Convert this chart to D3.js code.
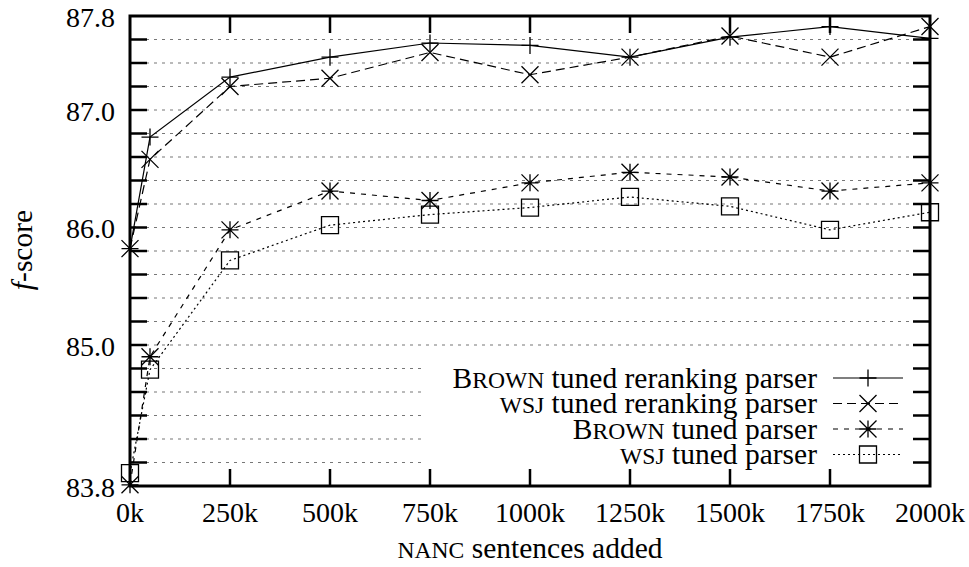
<!DOCTYPE html>
<html>
<head>
<meta charset="utf-8">
<script src="https://cdn.jsdelivr.net/npm/d3@7"></script>
<style>
  body { margin: 0; background: #fff; }
</style>
</head>
<body>
<div class="chart"></div>
<script>
// NANC sentences added (thousands)
const sizes = [0, 50, 250, 500, 750, 1000, 1250, 1500, 1750, 2000];

const brownRerank = [85.82, 86.77, 87.28, 87.45, 87.57, 87.55, 87.45, 87.62, 87.71, 87.61];
const wsjRerank   = [85.82, 86.58, 87.20, 87.27, 87.49, 87.30, 87.45, 87.63, 87.45, 87.71];
const brownParser = [83.81, 84.90, 85.98, 86.31, 86.23, 86.38, 86.47, 86.43, 86.31, 86.38];
const wsjParser   = [83.91, 84.79, 85.72, 86.02, 86.11, 86.17, 86.26, 86.18, 85.98, 86.13];

const xTicks = [0, 250, 500, 750, 1000, 1250, 1500, 1750, 2000];
const yLabelTicks = [83.8, 85.0, 86.0, 87.0, 87.8];

const width = 969, height = 567;
const plotLeft = 130, plotRight = 930, plotTop = 16, plotBottom = 486;
const serif = 'Liberation Serif';
const tickFs = 28;
const fs = 29.5;

const svg = d3.select('.chart')
.append('svg')
.attr('width', width)
.attr('height', height);

let x = d3.scaleLinear().domain([0, 2000]).range([plotLeft, plotRight]);
let y = d3.scaleLinear().domain([83.8, 87.8]).range([plotBottom, plotTop]);

// every 0.2 from 84.0 to 87.6
const minorY = d3.range(1, 20).map(i => +(83.8 + i * 0.2).toFixed(1));

// grid
svg.append('g')
.selectAll('line')
.data(minorY)
.enter()
.append('line')
.attr('x1', plotLeft)
.attr('x2', plotRight)
.attr('y1', d => y(d))
.attr('y2', d => y(d))
.attr('stroke', '#777')
.attr('stroke-width', 1.2)
.attr('stroke-dasharray', '3,5');

// legend background covers grid
svg.append('rect')
.attr('x', 421)
.attr('y', 362)
.attr('width', plotRight - 421 - 2)
.attr('height', 108)
.attr('fill', '#fff');

const series = [
	{name: [['B', 1], ['ROWN', 0.8], [' tuned reranking parser', 1]], values: brownRerank, dash: null, marker: 'plus'},
	{name: [['WSJ', 0.8], [' tuned reranking parser', 1]], values: wsjRerank, dash: '9,5', marker: 'cross'},
	{name: [['B', 1], ['ROWN', 0.8], [' tuned parser', 1]], values: brownParser, dash: '5,6', marker: 'star'},
	{name: [['WSJ', 0.8], [' tuned parser', 1]], values: wsjParser, dash: '2,3', marker: 'box'}
];

const ms = 8.5;

const drawMarker = (g, type, cx, cy) => {
	const p = d3.path();
	if (type === 'plus' || type === 'star') {
		p.moveTo(cx - ms, cy); p.lineTo(cx + ms, cy);
		p.moveTo(cx, cy - ms); p.lineTo(cx, cy + ms);
	}
	if (type === 'cross' || type === 'star') {
		p.moveTo(cx - ms, cy - ms); p.lineTo(cx + ms, cy + ms);
		p.moveTo(cx - ms, cy + ms); p.lineTo(cx + ms, cy - ms);
	}
	if (type === 'box') {
		p.rect(cx - ms, cy - ms, ms * 2, ms * 2);
	}
	g.append('path')
	.attr('d', p.toString())
	.attr('fill', 'none')
	.attr('stroke', '#000')
	.attr('stroke-width', 1.3);
}

const line = d3.line()
.x(d => x(d[0]))
.y(d => y(d[1]));

const plot = svg.append('g');

series.forEach(s => {
	const pts = sizes.map((v, i) => [v, s.values[i]]);

	plot.append('path')
	.datum(pts)
	.attr('d', line)
	.attr('fill', 'none')
	.attr('stroke', '#000')
	.attr('stroke-width', 1.2)
	.attr('stroke-dasharray', s.dash);

	pts.forEach(p => drawMarker(plot, s.marker, x(p[0]), y(p[1])));
})

// frame
svg.append('rect')
.attr('x', plotLeft)
.attr('y', plotTop)
.attr('width', plotRight - plotLeft)
.attr('height', plotBottom - plotTop)
.attr('fill', 'none')
.attr('stroke', '#000')
.attr('stroke-width', 3);

const tickLen = 17;
const ticks = svg.append('g')
.attr('stroke', '#000')
.attr('stroke-width', 2.5);

minorY.forEach(v => {
	ticks.append('line').attr('x1', plotLeft).attr('x2', plotLeft + tickLen).attr('y1', y(v)).attr('y2', y(v));
	ticks.append('line').attr('x1', plotRight - tickLen).attr('x2', plotRight).attr('y1', y(v)).attr('y2', y(v));
})

xTicks.slice(1, -1).forEach(v => {
	ticks.append('line').attr('x1', x(v)).attr('x2', x(v)).attr('y1', plotBottom).attr('y2', plotBottom - tickLen);
	ticks.append('line').attr('x1', x(v)).attr('x2', x(v)).attr('y1', plotTop).attr('y2', plotTop + tickLen);
})

// tick labels
svg.append('g')
.selectAll('text')
.data(yLabelTicks)
.enter()
.append('text')
.attr('x', 115)
.attr('y', d => y(d))
.attr('dy', '0.38em')
.attr('text-anchor', 'end')
.style('font-family', serif)
.style('font-size', tickFs + 'px')
.text(d => d.toFixed(1));

svg.append('g')
.selectAll('text')
.data(xTicks)
.enter()
.append('text')
.attr('x', d => x(d))
.attr('y', 522)
.attr('text-anchor', 'middle')
.style('font-family', serif)
.style('font-size', tickFs + 'px')
.text(d => d + 'k');

// axis titles
const xTitle = svg.append('text')
.attr('x', 530)
.attr('y', 558)
.attr('text-anchor', 'middle')
.style('font-family', serif)
.style('font-size', fs + 'px');
xTitle.append('tspan').style('font-size', (fs * 0.8) + 'px').text('NANC');
xTitle.append('tspan').text(' sentences added');

const yTitle = svg.append('text')
.attr('transform', 'translate(32,250) rotate(-90)')
.attr('text-anchor', 'middle')
.style('font-family', serif)
.style('font-size', fs + 'px');
yTitle.append('tspan').style('font-style', 'italic').text('f');
yTitle.append('tspan').text('-score');

// legend
const legendRows = [378, 403.5, 429, 454.5];

series.forEach((s, i) => {
	const ly = legendRows[i];
	const t = svg.append('text')
	.attr('x', 817)
	.attr('y', ly)
	.attr('dy', '0.33em')
	.attr('text-anchor', 'end')
	.style('font-family', serif)
	.style('font-size', fs + 'px');

	s.name.forEach(part => {
		t.append('tspan')
		.style('font-size', (fs * part[1]) + 'px')
		.text(part[0]);
	})

	svg.append('line')
	.attr('x1', 833)
	.attr('x2', 903)
	.attr('y1', ly)
	.attr('y2', ly)
	.attr('stroke', '#000')
	.attr('stroke-width', 1.2)
	.attr('stroke-dasharray', s.dash);

	drawMarker(svg, s.marker, 868, ly);
})
</script>
</body>
</html>
